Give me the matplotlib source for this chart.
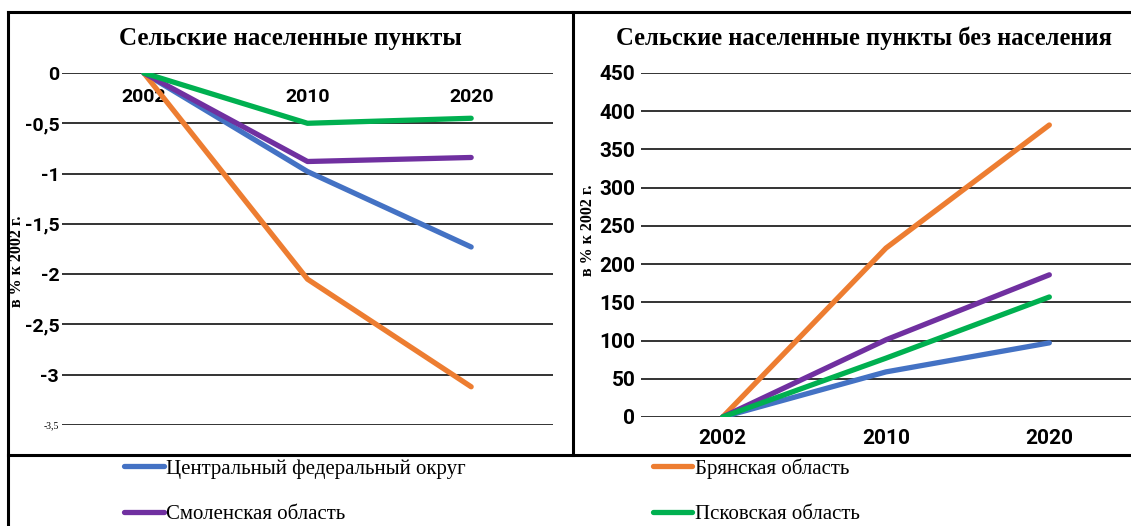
import matplotlib
matplotlib.use("Agg")
import matplotlib.pyplot as plt
from matplotlib.lines import Line2D

# data
years = ["2002", "2010", "2020"]
series_names = ["Центральный федеральный округ", "Брянская область",
                "Смоленская область", "Псковская область"]
colors = ["#4472C4", "#ED7D31", "#7030A0", "#00B050"]

# change in number of rural settlements, % to 2002
settlements = [
    [0, -0.98, -1.73],
    [0, -2.05, -3.12],
    [0, -0.88, -0.84],
    [0, -0.50, -0.45],
]
# change in number of settlements without population, % to 2002
empty_settlements = [
    [0, 59, 97],
    [0, 221, 382],
    [0, 101, 186],
    [0, 77, 157],
]

left_ticks = [0, -0.5, -1, -1.5, -2, -2.5, -3, -3.5]
left_ticklabels = ["0", "-0,5", "-1", "-1,5", "-2", "-2,5", "-3", "-3,5"]
right_ticks = list(range(0, 451, 50))

W, H = 1131, 526
TICK_FONT = ["Roboto", "DejaVu Sans"]
SERIF = ["Liberation Serif", "DejaVu Serif"]


def px_rect(left, top, right, bottom):
    return [left / W, 1 - bottom / H, (right - left) / W, (bottom - top) / H]


def fig_line(fig, xs, ys, lw=2.2):
    fig.add_artist(Line2D([x / W for x in xs], [1 - y / H for y in ys],
                          transform=fig.transFigure, color="black", lw=lw))


def style_axes(ax, size=15):
    for s in ax.spines.values():
        s.set_visible(False)
    ax.set_xlim(-0.5, 2.5)
    ax.grid(axis="y", color="#333333", lw=1.4)
    ax.set_axisbelow(True)
    ax.tick_params(length=0)
    for lab in ax.get_yticklabels() + ax.get_xticklabels():
        lab.set_family(TICK_FONT)
        lab.set_fontweight("bold")
        lab.set_fontsize(size)


fig = plt.figure(figsize=(W / 100, H / 100), dpi=100)

# left panel
ax1 = fig.add_axes(px_rect(62, 73, 553, 425))
lines = []
for vals, name, c in zip(settlements, series_names, colors):
    ln, = ax1.plot(range(len(years)), vals, color=c, lw=3.8, label=name,
                   solid_capstyle="round")
    lines.append(ln)
ax1.set_ylim(-3.5, 0)
ax1.set_yticks(left_ticks, left_ticklabels)
ax1.set_xticks(range(len(years)), years)
ax1.xaxis.set_ticks_position("top")
style_axes(ax1, 14)
ax1.tick_params(axis="x", pad=-24)
ax1.tick_params(axis="y", pad=2)
small = ax1.get_yticklabels()[-1]
small.set_fontsize(7)
small.set_fontweight("normal")
small.set_family(SERIF)
fig.text(290 / W, 1 - 38 / H, "Сельские населенные пункты", family=SERIF,
         fontweight="bold", fontsize=18, ha="center", va="center")
fig.text(17 / W, 1 - 261 / H, "в % к 2002 г.", rotation=90, family=SERIF,
         fontweight="bold", fontsize=11.5, ha="center", va="center")

# right panel
ax2 = fig.add_axes(px_rect(641, 73, 1131, 417))
for vals, name, c in zip(empty_settlements, series_names, colors):
    ax2.plot(range(len(years)), vals, color=c, lw=3.8, solid_capstyle="round")
ax2.set_ylim(0, 450)
ax2.set_yticks(right_ticks)
ax2.set_xticks(range(len(years)), years)
style_axes(ax2)
ax2.tick_params(axis="x", pad=9)
ax2.tick_params(axis="y", pad=4)
fig.text(864 / W, 1 - 38 / H, "Сельские населенные пункты без населения",
         family=SERIF, fontweight="bold", fontsize=17.7, ha="center", va="center")
fig.text(588 / W, 1 - 230 / H, "в % к 2002 г.", rotation=90, family=SERIF,
         fontweight="bold", fontsize=11.5, ha="center", va="center")

# frames
fig_line(fig, [8, 1131], [12, 12])
fig_line(fig, [8, 8], [12, 526])
fig_line(fig, [573, 573], [12, 455])
fig_line(fig, [8, 1131], [455, 455])

# legend, filled column by column
order = [0, 2, 1, 3]
leg = fig.legend([lines[i] for i in order], [series_names[i] for i in order],
                 ncol=2, loc="upper left", bbox_to_anchor=(122 / W, 1 - 456 / H),
                 frameon=False, handlelength=1.9, handletextpad=0.1,
                 columnspacing=9.0, labelspacing=1.25, borderpad=0.1,
                 borderaxespad=0, prop={"family": SERIF, "size": 15})

fig.savefig("out.png", dpi=100)
